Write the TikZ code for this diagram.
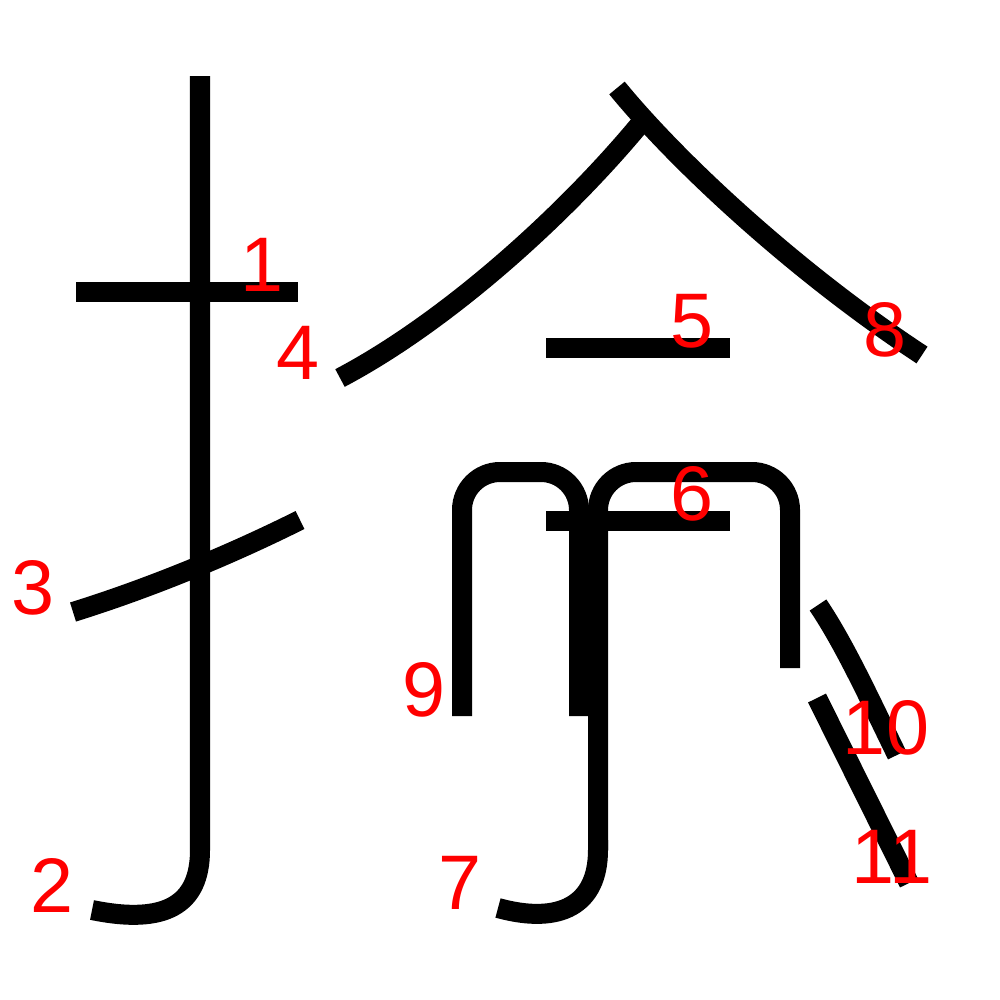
\documentclass[tikz,border=0pt]{standalone}
\usepackage{fontspec}
\setmainfont{Liberation Sans}
\begin{document}
\begin{tikzpicture}[x=0.01cm,y=-0.01cm,
  stroke/.style={line width=0.2cm,black},
  num/.style={text=red,font=\fontsize{22}{22}\selectfont,inner sep=0pt,anchor=center}]
\useasboundingbox (0,0) rectangle (1000,1000);
% strokes
\draw[stroke] (76,292) -- (298,292);
\draw[stroke] (200,76) -- (200,850) .. controls (200,905) and (165,925) .. (92,910);
\draw[stroke] (73,612) .. controls (150,588) and (230,555) .. (300,520);
\draw[stroke] (340,378) .. controls (450,320) and (570,210) .. (645,118);
\draw[stroke] (546,348) -- (730,348);
\draw[stroke] (546,521) -- (730,521);
\draw[stroke,rounded corners=0.38cm] (790,668) -- (790,472) -- (598,472) -- (598,850);
\draw[stroke] (598,840) -- (598,850) .. controls (598,905) and (560,925) .. (498,908);
\draw[stroke] (617,88) .. controls (680,165) and (800,275) .. (922,355);
\draw[stroke,rounded corners=0.38cm] (462,716) -- (462,472) -- (579,472) -- (579,716);
\draw[stroke] (818,605) .. controls (845,645) and (870,700) .. (897,755);
\draw[stroke] (817,698) -- (909,883);
% numbers
\node[num] (l1) at (262,265) {1};
\node[num] (l2) at (52,885) {2};
\node[num] (l3) at (33,588) {3};
\node[num] (l4) at (298,353) {4};
\node[num] (l5) at (692,321) {5};
\node[num] (l6) at (692,494) {6};
\node[num] (l7) at (460,883) {7};
\node[num] (l8) at (885,330) {8};
\node[num] (l9) at (424,690) {9};
\node[num] (l10) at (886,728) {10};
\node[num] (l11) at (892,857) {11};
\end{tikzpicture}
\end{document}
